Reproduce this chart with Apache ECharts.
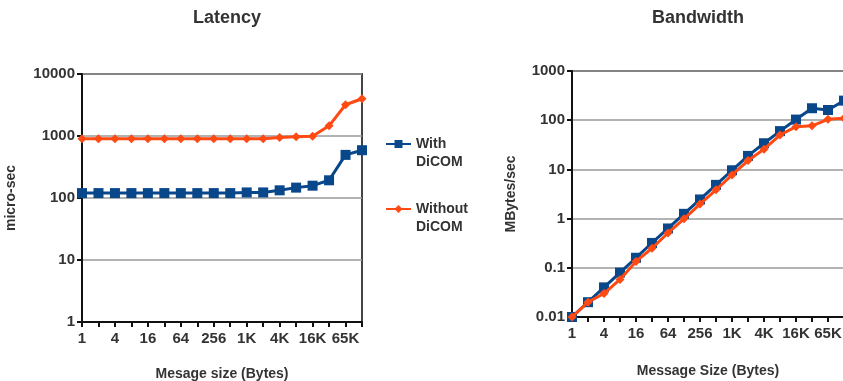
<!DOCTYPE html>
<html>
<head>
<meta charset="utf-8">
<script src="https://cdn.jsdelivr.net/npm/echarts@6/dist/echarts.min.js"></script>
<style>
  html, body { margin: 0; padding: 0; background: #fff; }
  #chart { width: 843px; height: 381px; }
</style>
</head>
<body>
<div id="chart"></div>
<script>
// Message sizes 2^0 .. 2^17 bytes
const sizes = ['1', '2', '4', '8', '16', '32', '64', '128', '256', '512',
  '1K', '2K', '4K', '8K', '16K', '32K', '65K', '128K'];

// Latency in micro-seconds
const latencyWith = [120, 120, 120, 120, 120, 120, 120, 120, 120, 120,
  123, 123, 133, 147, 158, 193, 496, 590];
const latencyWithout = [900, 900, 900, 900, 900, 900, 900, 900, 900, 900,
  900, 900, 946, 970, 990, 1460, 3190, 3990];

// Bandwidth in MBytes/sec
const bandwidthWith = [0.01, 0.02, 0.04, 0.08, 0.16, 0.32, 0.63, 1.25, 2.45, 4.85,
  9.6, 18.8, 34, 60, 103, 175, 161, 250];
const bandwidthWithout = [0.01, 0.02, 0.03, 0.058, 0.135, 0.25, 0.51, 0.99, 1.97, 3.85,
  7.7, 15.1, 25.7, 50, 74, 77, 104, 110];

const seriesNames = ['With\nDiCOM', 'Without\nDiCOM'];

const BLUE = '#08478A';
const ORANGE = '#FF4A14';
const TEXT = '#333333';
const FONT = '"Liberation Sans", Arial, sans-serif';

const boldText = (size) => ({ color: TEXT, fontFamily: FONT, fontWeight: 'bold', fontSize: size });

function makeX(gridIndex, name, gap) {
  return {
    type: 'category', gridIndex, data: sizes, boundaryGap: false,
    name, nameLocation: 'middle', nameGap: gap, nameTextStyle: boldText(14),
    axisLine: { lineStyle: { color: '#111', width: 2 } },
    axisTick: { show: true, interval: 0, length: 5, lineStyle: { color: '#111', width: 2 } },
    axisLabel: Object.assign({ interval: 1, margin: 9 }, boldText(15)),
    splitLine: { show: false }
  };
}

function makeY(gridIndex, name, min, max, gap) {
  return {
    type: 'log', logBase: 10, gridIndex, min, max,
    name, nameLocation: 'middle', nameGap: gap, nameTextStyle: boldText(14),
    axisLine: { show: true, lineStyle: { color: '#111', width: 2 } },
    axisTick: { show: true, length: 5, lineStyle: { color: '#111', width: 2 } },
    axisLabel: Object.assign({ margin: 7, formatter: (v) => String(+v.toPrecision(6)) }, boldText(15)),
    splitLine: { show: true, lineStyle: { color: '#9a9a9a', width: 1.5 } },
    minorTick: { show: false }
  };
}

function lineSeries(name, data, xi, color, symbol, size) {
  return {
    name, type: 'line', xAxisIndex: xi, yAxisIndex: xi, data,
    symbol, symbolSize: size, showSymbol: true,
    lineStyle: { color, width: 3 },
    itemStyle: { color },
    emphasis: { disabled: true },
    animation: false, z: symbol === 'rect' ? 3 : 4
  };
}

const chart = echarts.init(document.getElementById('chart'), null, { renderer: 'canvas' });
chart.setOption({
  animation: false,
  backgroundColor: '#fff',
  title: [
    { text: 'Latency', left: 222, top: 4, textAlign: 'center', textStyle: boldText(18) },
    { text: 'Bandwidth', left: 693, top: 4, textAlign: 'center', textStyle: boldText(18) }
  ],
  legend: {
    orient: 'vertical', left: 380, top: 112, itemGap: 11,
    itemWidth: 25, itemHeight: 10,
    data: seriesNames,
    // leading blank line keeps the key mark level with the first text line
    formatter: (name) => '\n' + name,
    textStyle: Object.assign({ lineHeight: 18 }, boldText(14))
  },
  grid: [
    { left: 82, top: 74, width: 280, height: 248, outerBoundsMode: 'none',
      show: true, borderColor: '#444', borderWidth: 2 },
    { left: 572, top: 71, width: 272, height: 246, outerBoundsMode: 'none',
      show: true, borderColor: '#444', borderWidth: 2 }
  ],
  xAxis: [makeX(0, 'Mesage size (Bytes)', 45), makeX(1, 'Message Size (Bytes)', 47)],
  yAxis: [
    makeY(0, 'micro-sec', 1, 10000, 64),
    makeY(1, 'MBytes/sec', 0.01, 1000, 54)
  ],
  series: [
    lineSeries(seriesNames[0], latencyWith, 0, BLUE, 'rect', 10),
    lineSeries(seriesNames[1], latencyWithout, 0, ORANGE, 'diamond', 9),
    lineSeries(seriesNames[0], bandwidthWith, 1, BLUE, 'rect', 10),
    lineSeries(seriesNames[1], bandwidthWithout, 1, ORANGE, 'diamond', 9)
  ]
});
</script>
</body>
</html>
